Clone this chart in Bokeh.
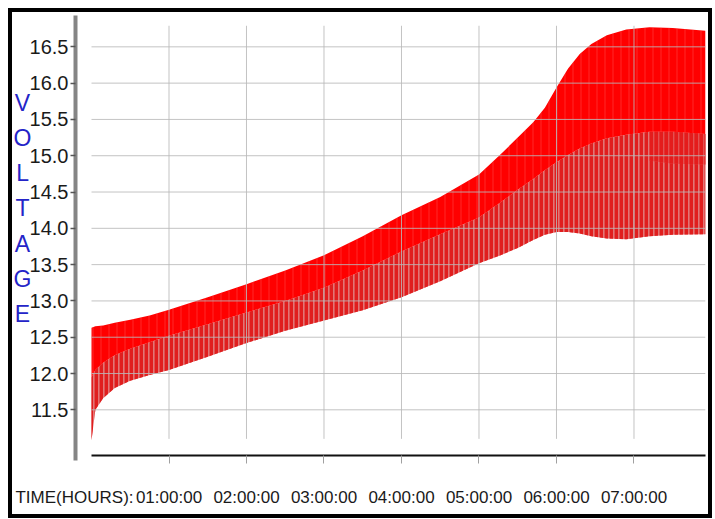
from bokeh.plotting import figure
from bokeh.models import Range1d, FixedTicker, Label
from bokeh.embed import file_html
from bokeh.resources import INLINE

# ---------------- data ----------------
hours = [0.0, 0.05, 0.15, 0.3, 0.5, 0.75, 1.0, 1.5, 2.0, 2.5, 3.0, 3.5, 4.0, 4.5,
         5.0, 5.28, 5.5, 5.7, 5.85, 6.0, 6.15, 6.3, 6.45, 6.65, 6.9, 7.2, 7.5, 7.92]
v_top = [12.63, 12.65, 12.66, 12.70, 12.74, 12.80, 12.88, 13.05, 13.23, 13.42, 13.63,
         13.89, 14.18, 14.43, 14.74, 15.02, 15.25, 15.46, 15.66, 15.94, 16.20, 16.40,
         16.54, 16.66, 16.74, 16.77, 16.76, 16.72]
v_mid = [11.95, 12.05, 12.15, 12.25, 12.34, 12.43, 12.52, 12.68, 12.84, 13.00, 13.18,
         13.42, 13.68, 13.92, 14.15, 14.36, 14.53, 14.68, 14.80, 14.91, 15.01, 15.10,
         15.17, 15.24, 15.29, 15.33, 15.33, 15.30]
v_low = [11.08, 11.50, 11.66, 11.80, 11.90, 11.98, 12.05, 12.23, 12.42, 12.59, 12.73,
         12.87, 13.05, 13.27, 13.52, 13.63, 13.73, 13.84, 13.91, 13.95, 13.95, 13.93,
         13.89, 13.86, 13.85, 13.89, 13.91, 13.92]
# denser part of the lower spikes near the end of the run
dense_hours = [7.2, 7.5, 7.92]
dense_low = [14.93, 14.89, 14.88]
dense_high = [15.33, 15.33, 15.30]

y_ticks = [11.5, 12.0, 12.5, 13.0, 13.5, 14.0, 14.5, 15.0, 15.5, 16.0, 16.5]
y_tick_labels = ["11.5", "12.0", "12.5", "13.0", "13.5", "14.0", "14.5", "15.0",
                 "15.5", "16.0", "16.5"]
x_ticks = [1, 2, 3, 4, 5, 6, 7]
x_tick_labels = ["01:00:00", "02:00:00", "03:00:00", "04:00:00", "05:00:00",
                 "06:00:00", "07:00:00"]
x_title = "TIME(HOURS):"
y_title = "VOLTAGE"

# ---------------- styling / layout ----------------
FONT = "Liberation Sans"
X_AXIS_AT = 10.87      # voltage level where the time axis is drawn
Y_AXIS_AT = -0.2065    # hour position where the voltage axis is drawn
GRID_Y0, GRID_Y1 = 11.10, 16.79

p = figure(width=704, height=510,
           x_range=Range1d(-1.071, 8.013), y_range=Range1d(10.003, 17.028),
           output_backend="svg", toolbar_location=None,
           min_border=0, outline_line_color="black", outline_line_width=7,
           background_fill_color="white", border_fill_color="white")
p.styles = {"margin": "8px 0 0 8px"}
p.xgrid.visible = False
p.ygrid.visible = False

# band: solid upper part and striped lower part
p.varea(x=hours, y1=v_low, y2=v_mid, fill_color="#e27676",
        hatch_pattern="vertical_line", hatch_color="#e01e1e",
        hatch_scale=5, hatch_weight=3.8)
p.varea(x=dense_hours, y1=dense_low, y2=dense_high, fill_color="#e45050",
        hatch_pattern="vertical_line", hatch_color="#e41c1c",
        hatch_scale=5, hatch_weight=4.2)
p.varea(x=hours, y1=v_mid, y2=v_top, fill_color="#ff0000",
        hatch_pattern="vertical_line", hatch_color="#ff7070",
        hatch_alpha=0.35, hatch_scale=8, hatch_weight=1)

# grid lines drawn over the band
p.segment(x0=[0] * len(y_ticks), x1=[hours[-1]] * len(y_ticks), y0=y_ticks, y1=y_ticks,
          line_color="#b8b8b8", line_alpha=0.85, line_width=1)
p.segment(x0=x_ticks, x1=x_ticks, y0=[GRID_Y0] * len(x_ticks), y1=[GRID_Y1] * len(x_ticks),
          line_color="#b8b8b8", line_alpha=0.85, line_width=1)

# y axis
ya = p.yaxis[0]
ya.fixed_location = Y_AXIS_AT
ya.bounds = (10.80, 16.93)
ya.ticker = FixedTicker(ticks=y_ticks)
ya.major_label_overrides = {t: s for t, s in zip(y_ticks, y_tick_labels)}
ya.axis_line_color = "#858585"
ya.axis_line_width = 4
ya.major_tick_out = 5
ya.major_tick_in = 0
ya.major_tick_line_color = "#555555"
ya.major_tick_line_width = 1.5
ya.minor_tick_line_color = None
ya.major_label_standoff = 2
ya.major_label_text_font = FONT
ya.major_label_text_font_size = "20px"
ya.major_label_text_color = "#1a1a1a"

# x axis
xa = p.xaxis[0]
xa.fixed_location = X_AXIS_AT
xa.bounds = (0, hours[-1])
xa.ticker = FixedTicker(ticks=x_ticks)
xa.major_label_overrides = {t: s for t, s in zip(x_ticks, x_tick_labels)}
xa.axis_line_color = "#111111"
xa.axis_line_width = 2
xa.major_tick_out = 8
xa.major_tick_in = 0
xa.major_tick_line_color = "#a0a0a0"
xa.minor_tick_line_color = None
xa.major_label_standoff = 24
xa.major_label_text_font = FONT
xa.major_label_text_font_size = "17px"
xa.major_label_text_color = "#1a1a1a"

# axis titles
p.add_layout(Label(x=-0.981, y=10.292, text=x_title,
                   text_font=FONT, text_font_size="17px",
                   text_color="#1a1a1a", text_align="left", text_baseline="middle"))
for i, ch in enumerate(y_title):
    p.add_layout(Label(x=-0.890, y=15.733 - i * 0.486, text=ch,
                       text_font=FONT, text_font_size="23px",
                       text_color="#2424c8", text_align="center",
                       text_baseline="middle"))

open("out.html", "w").write(file_html(p, INLINE))
